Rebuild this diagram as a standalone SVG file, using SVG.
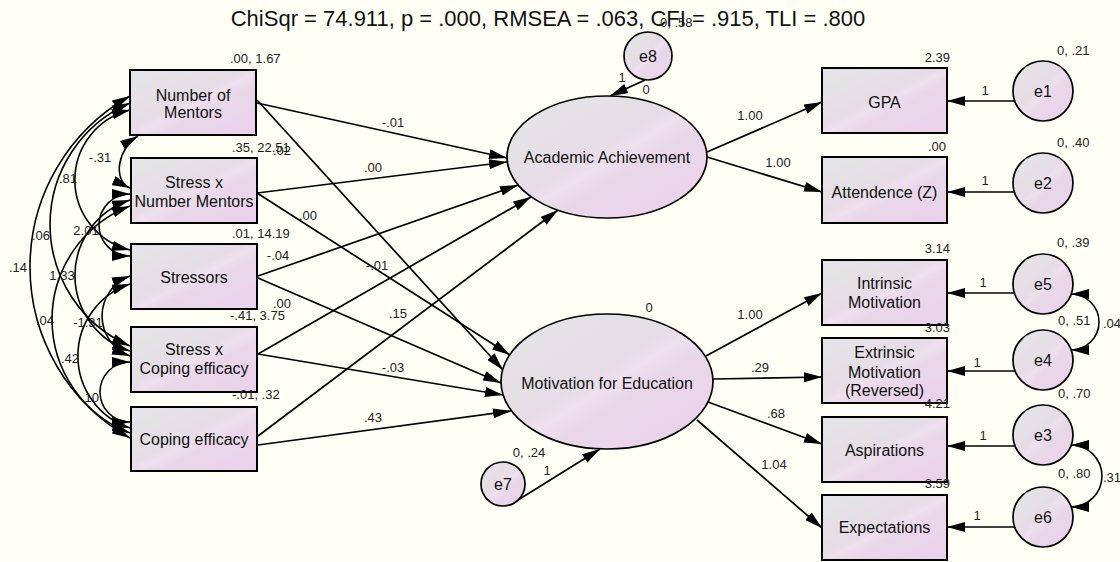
<svg xmlns="http://www.w3.org/2000/svg" width="1120" height="562" viewBox="0 0 1120 562">
<defs>
<linearGradient id="g" x1="0" y1="0" x2="1" y2="1">
<stop offset="0" stop-color="#e4e6e6"/>
<stop offset="0.45" stop-color="#e6dde6"/>
<stop offset="0.52" stop-color="#efe0ee"/>
<stop offset="0.6" stop-color="#e9d8e9"/>
<stop offset="1" stop-color="#ecd0ec"/>
</linearGradient>
<marker id="ah" viewBox="0 0 18 10" refX="18" refY="5" markerWidth="18" markerHeight="10" markerUnits="userSpaceOnUse" orient="auto-start-reverse">
<path d="M0,0 L18,5 L0,10 z" fill="#000"/>
</marker>
<style>
.box{fill:url(#g);stroke:#000;stroke-width:2}
.lat{fill:url(#g);stroke:#000;stroke-width:1.7}
.t{font-family:"Liberation Sans",Arial,sans-serif;font-size:16px;fill:#111;text-anchor:middle}
.s{font-family:"Liberation Sans",Arial,sans-serif;font-size:13px;fill:#222}
.m{text-anchor:middle}
.e{text-anchor:end}
.c{fill:none;stroke:#000;stroke-width:1.7;marker-end:url(#ah)}
.cv{fill:none;stroke:#000;stroke-width:1.6;marker-end:url(#ah);marker-start:url(#ah)}
</style>
</defs>
<rect x="0" y="0" width="1120" height="562" fill="#fffff6"/>
<text x="548" y="26" font-family="Liberation Sans, Arial, sans-serif" font-size="22" fill="#111" text-anchor="middle">ChiSqr = 74.911, p = .000, RMSEA = .063, CFI = .915, TLI = .800</text>

<g id="connectors">
<path class="c" d="M257,103 L507,158"/>
<path class="c" d="M257,193 L507,162"/>
<path class="c" d="M258,276 L518,185"/>
<path class="c" d="M258,354 L531,197"/>
<path class="c" d="M258,436 L558,210"/>
<path class="c" d="M257,100 L503,370"/>
<path class="c" d="M257,193 L510,355"/>
<path class="c" d="M258,278 L501,383"/>
<path class="c" d="M258,354 L503,395"/>
<path class="c" d="M258,445 L511,411"/>
<path class="c" d="M707,152 L822,102"/>
<path class="c" d="M707,157 L822,192"/>
<path class="c" d="M706,356 L822,293"/>
<path class="c" d="M713,379 L822,377"/>
<path class="c" d="M708,402 L822,444"/>
<path class="c" d="M697,420 L822,528"/>
<path class="c" d="M1014,101 L947,101"/>
<path class="c" d="M1014,192 L947,192"/>
<path class="c" d="M1014,293 L947,293"/>
<path class="c" d="M1015,371 L947,371"/>
<path class="c" d="M1015,446 L947,446"/>
<path class="c" d="M1015,527 L947,527"/>
<path class="c" d="M645,80 L610,96"/>
<path class="c" d="M510,505 L600,449"/>
<path class="cv" d="M138,136 C118,148 112,180 130,188"/>
<path class="cv" d="M130,110 A72,72 0 0,0 130,250"/>
<path class="cv" d="M130,103 A132.3,132.3 0 0,0 130,346"/>
<path class="cv" d="M130,96 A196.2,196.2 0 0,0 130,438"/>
<path class="cv" d="M130,194 A31,31 0 0,0 130,256"/>
<path class="cv" d="M130,200 A79.3,79.3 0 0,0 130,351"/>
<path class="cv" d="M130,206 A121.6,121.6 0 0,0 130,433"/>
<path class="cv" d="M130,276 A42.6,42.6 0 0,0 130,356"/>
<path class="cv" d="M130,284 A75.8,75.8 0 0,0 130,428"/>
<path class="cv" d="M130,362 A30,30 0 0,0 130,422"/>
<path class="cv" d="M1071,294 A28,28 0 0,1 1071,350"/>
<path class="cv" d="M1071,445 A31,31 0 0,1 1071,507"/>
</g>

<g id="connector-labels" class="s">
<text class="m" x="393" y="127">-.01</text>
<text class="m" x="373" y="172">.00</text>
<text class="m" x="308" y="220">.00</text>
<text x="273" y="155">.02</text>
<text class="m" x="278" y="260">-.04</text>
<text class="m" x="377" y="270">-.01</text>
<text class="m" x="282" y="308">.00</text>
<text class="m" x="398" y="318">.15</text>
<text class="m" x="393" y="372">-.03</text>
<text class="m" x="373" y="422">.43</text>
<text class="m" x="750" y="120">1.00</text>
<text class="m" x="778" y="167">1.00</text>
<text class="m" x="750" y="319">1.00</text>
<text class="m" x="760" y="372">.29</text>
<text class="m" x="776" y="418">.68</text>
<text class="m" x="774" y="469">1.04</text>
<text class="m" x="985" y="95">1</text>
<text class="m" x="985" y="185">1</text>
<text class="m" x="983" y="287">1</text>
<text class="m" x="977" y="367">1</text>
<text class="m" x="983" y="440">1</text>
<text class="m" x="977" y="520">1</text>
<text class="m" x="622" y="82">1</text>
<text class="m" x="646" y="94">0</text>
<text class="m" x="547" y="475">1</text>
<text class="m" x="100" y="162">-.31</text>
<text class="m" x="68" y="183">.81</text>
<text class="m" x="41" y="240">.06</text>
<text class="m" x="18" y="272">.14</text>
<text class="m" x="86" y="235">2.01</text>
<text class="m" x="62" y="280">1.33</text>
<text class="m" x="45" y="325">.04</text>
<text class="m" x="88" y="327">-1.31</text>
<text class="m" x="70" y="363">.42</text>
<text class="m" x="90" y="402">.10</text>
<text x="1103" y="328">.04</text>
<text x="1103" y="482">.31</text>
</g>

<g id="n-mentors">
<rect class="box" x="130" y="70" width="126" height="65"/>
<text class="t" x="193" y="101">Number of</text>
<text class="t" x="193" y="118">Mentors</text>
<text class="s" x="230" y="63">.00, 1.67</text>
</g>
<g id="n-stress-mentors">
<rect class="box" x="131" y="158" width="126" height="65"/>
<text class="t" x="194" y="188">Stress x</text>
<text class="t" x="194" y="207">Number Mentors</text>
<text class="s" x="232" y="152">.35, 22.51</text>
</g>
<g id="n-stressors">
<rect class="box" x="131" y="244" width="126" height="65"/>
<text class="t" x="194" y="283">Stressors</text>
<text class="s" x="232" y="238">.01, 14.19</text>
</g>
<g id="n-stress-coping">
<rect class="box" x="131" y="327" width="126" height="65"/>
<text class="t" x="194" y="355">Stress x</text>
<text class="t" x="194" y="374">Coping efficacy</text>
<text class="s" x="230" y="320">-.41, 3.75</text>
</g>
<g id="n-coping">
<rect class="box" x="131" y="407" width="126" height="64"/>
<text class="t" x="194" y="445">Coping efficacy</text>
<text class="s" x="232" y="399">-.01, .32</text>
</g>

<g id="n-academic">
<ellipse class="lat" cx="607" cy="157" rx="100" ry="61"/>
<text class="t" x="607" y="163">Academic Achievement</text>
</g>
<g id="n-motivation">
<ellipse class="lat" cx="607" cy="381.5" rx="106" ry="67.5"/>
<text class="t" x="607" y="389">Motivation for Education</text>
<text class="s m" x="649" y="312">0</text>
</g>

<g id="n-e8">
<circle class="lat" cx="648" cy="56" r="24"/>
<text class="t" x="648" y="62">e8</text>
<text class="s" x="660" y="27">0, .58</text>
</g>
<g id="n-e7">
<circle class="lat" cx="503" cy="484" r="22"/>
<text class="t" x="503" y="490">e7</text>
<text class="s m" x="529" y="457">0, .24</text>
</g>

<g id="n-gpa">
<rect class="box" x="822" y="68" width="125" height="65"/>
<text class="t" x="884.5" y="108">GPA</text>
<text class="s e" x="950" y="62">2.39</text>
</g>
<g id="n-attendence">
<rect class="box" x="822" y="157" width="125" height="66"/>
<text class="t" x="884.5" y="198">Attendence (Z)</text>
<text class="s e" x="946" y="151">.00</text>
</g>
<g id="n-intrinsic">
<rect class="box" x="822" y="260" width="125" height="65"/>
<text class="t" x="884.5" y="289">Intrinsic</text>
<text class="t" x="884.5" y="308">Motivation</text>
<text class="s e" x="950" y="253">3.14</text>
</g>
<g id="n-extrinsic">
<rect class="box" x="822" y="338" width="125" height="65"/>
<text class="t" x="884.5" y="358">Extrinsic</text>
<text class="t" x="884.5" y="378">Motivation</text>
<text class="t" x="884.5" y="396">(Reversed)</text>
<text class="s e" x="950" y="332">3.03</text>
</g>
<g id="n-aspirations">
<rect class="box" x="822" y="417" width="125" height="65"/>
<text class="t" x="884.5" y="456">Aspirations</text>
<text class="s e" x="950" y="408">4.21</text>
</g>
<g id="n-expectations">
<rect class="box" x="822" y="495" width="125" height="65"/>
<text class="t" x="884.5" y="533">Expectations</text>
<text class="s e" x="950" y="488">3.59</text>
</g>

<g id="n-e1">
<circle class="lat" cx="1043" cy="91" r="30"/>
<text class="t" x="1043" y="97">e1</text>
<text class="s" x="1057" y="55">0, .21</text>
</g>
<g id="n-e2">
<circle class="lat" cx="1043" cy="183" r="30"/>
<text class="t" x="1043" y="189">e2</text>
<text class="s" x="1057" y="147">0, .40</text>
</g>
<g id="n-e5">
<circle class="lat" cx="1043" cy="284" r="30"/>
<text class="t" x="1043" y="290">e5</text>
<text class="s" x="1057" y="247">0, .39</text>
</g>
<g id="n-e4">
<circle class="lat" cx="1043" cy="360" r="30"/>
<text class="t" x="1043" y="366">e4</text>
<text class="s" x="1058" y="325">0, .51</text>
</g>
<g id="n-e3">
<circle class="lat" cx="1043" cy="435" r="30"/>
<text class="t" x="1043" y="441">e3</text>
<text class="s" x="1058" y="398">0, .70</text>
</g>
<g id="n-e6">
<circle class="lat" cx="1043" cy="517" r="30"/>
<text class="t" x="1043" y="523">e6</text>
<text class="s" x="1058" y="478">0, .80</text>
</g>
</svg>
